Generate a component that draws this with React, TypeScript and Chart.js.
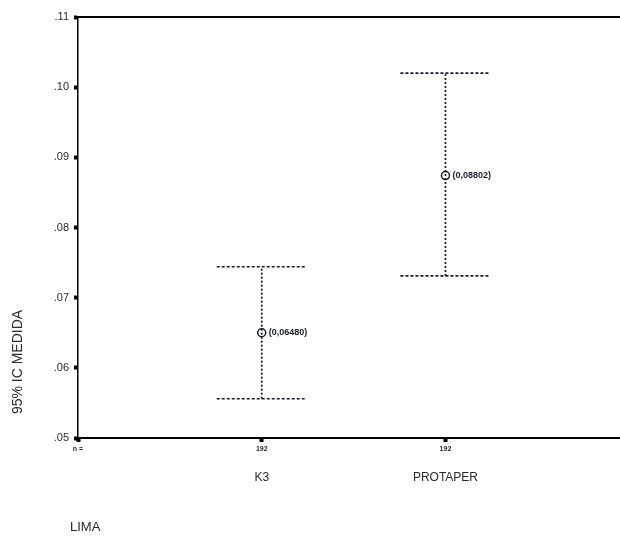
import React, { useEffect, useRef } from "react";
import { Chart, registerables } from "chart.js";

Chart.register(...registerables);

const categories = ["K3", "PROTAPER"];
const nLabels = ["192", "192"];
const means = [0.065, 0.0874];
const lower = [0.0556, 0.0731];
const upper = [0.0744, 0.102];
const meanLabels = ["(0,06480)", "(0,08802)"];
const yTicks = [0.05, 0.06, 0.07, 0.08, 0.09, 0.1, 0.11];
const yTitle = "95% IC MEDIDA";
const xTitle = "LIMA";
const nPrefix = "n =";

const INK = "#1b1b2b";
const TEXT = "#2a2a2a";
const CAP = 0.245;

export default function App() {
  const ref = useRef<HTMLCanvasElement | null>(null);

  useEffect(() => {
    if (!ref.current) return;
    const datasets: any[] = [];
    categories.forEach((_, i) => {
      const x = i + 1;
      datasets.push({
        data: [{ x, y: lower[i] }, { x, y: upper[i] }],
        showLine: true,
        borderColor: INK,
        borderWidth: 1.8,
        borderDash: [2, 2],
        pointRadius: 0,
      });
      datasets.push({
        data: [{ x: x - CAP, y: upper[i] }, { x: x + CAP, y: upper[i] }],
        showLine: true,
        borderColor: INK,
        borderWidth: 1.6,
        borderDash: [3, 2],
        pointRadius: 0,
      });
      datasets.push({
        data: [{ x: x - CAP, y: lower[i] }, { x: x + CAP, y: lower[i] }],
        showLine: true,
        borderColor: INK,
        borderWidth: 1.6,
        borderDash: [3, 2],
        pointRadius: 0,
      });
    });
    datasets.push({
      data: means.map((m, i) => ({ x: i + 1, y: m })),
      showLine: false,
      pointStyle: "circle",
      pointRadius: 4,
      pointBackgroundColor: "#ffffff",
      pointBorderColor: INK,
      pointBorderWidth: 1.5,
    });
    datasets.push({
      data: means.map((m, i) => ({ x: i + 1, y: m })),
      showLine: false,
      pointStyle: "cross",
      pointRadius: 3,
      pointBorderColor: INK,
      pointBorderWidth: 1,
    });

    const overlay = {
      id: "overlay",
      afterDraw(chart: any) {
        const { ctx, chartArea, scales } = chart;
        const xs = scales.x;
        const ys = scales.y;
        ctx.save();
        ctx.strokeStyle = "#000";
        ctx.lineWidth = 2;
        ctx.beginPath();
        ctx.moveTo(chartArea.left, chartArea.top);
        ctx.lineTo(chartArea.right, chartArea.top);
        ctx.stroke();
        ctx.fillStyle = INK;
        ctx.font = 'bold 9px "Liberation Sans Narrow", "Liberation Sans", Arial';
        ctx.textAlign = "left";
        ctx.textBaseline = "middle";
        means.forEach((m, i) => {
          ctx.fillText(meanLabels[i], xs.getPixelForValue(i + 1) + 7, ys.getPixelForValue(m));
        });
        ctx.fillStyle = TEXT;
        ctx.font = '12px "Liberation Sans", Arial';
        ctx.textAlign = "center";
        categories.forEach((c, i) => {
          ctx.fillText(c, xs.getPixelForValue(i + 1), 478);
        });
        ctx.font = '13px "Liberation Sans Narrow", "Liberation Sans", Arial';
        ctx.textAlign = "left";
        ctx.fillText(xTitle, 70, 527);
        ctx.translate(18, 362);
        ctx.rotate(-Math.PI / 2);
        ctx.textAlign = "center";
        ctx.font = '14px "Liberation Sans", Arial';
        ctx.fillText(yTitle, 0, 0);
        ctx.restore();
      },
    };

    const chart = new Chart(ref.current, {
      type: "scatter",
      data: { datasets },
      options: {
        animation: false,
        responsive: false,
        maintainAspectRatio: false,
        layout: { autoPadding: false, padding: { top: 17, right: 0, left: 0, bottom: 0 } },
        plugins: { legend: { display: false }, tooltip: { enabled: false } },
        scales: {
          x: {
            type: "linear",
            min: 0,
            max: 2.95,
            afterBuildTicks: (s: any) => {
              s.ticks = [0, 1, 2].map((v) => ({ value: v }));
            },
            afterFit: (s: any) => {
              s.height = 102;
              s.paddingRight = 0;
              s.paddingLeft = 0;
            },
            ticks: {
              autoSkip: false,
              maxRotation: 0,
              padding: 3,
              color: TEXT,
              font: { family: '"Liberation Sans", Arial', size: 7, weight: "bold" },
              callback: (v: any) => (v === 0 ? nPrefix : nLabels[v - 1]),
            },
            grid: { drawOnChartArea: false, tickLength: 4, tickWidth: 4, tickColor: "#000" },
            border: { display: true, color: "#000", width: 2 },
          },
          y: {
            type: "linear",
            min: 0.05,
            max: 0.11,
            afterBuildTicks: (s: any) => {
              s.ticks = yTicks.map((v) => ({ value: v }));
            },
            afterFit: (s: any) => {
              s.width = 78;
              s.paddingTop = 0;
              s.paddingBottom = 0;
            },
            ticks: {
              padding: 5,
              color: TEXT,
              font: { family: '"Liberation Sans", Arial', size: 11 },
              callback: (v: any) => "." + String(Math.round(v * 100)).padStart(2, "0"),
            },
            grid: { drawOnChartArea: false, tickLength: 4, tickWidth: 4, tickColor: "#000" },
            border: { display: true, color: "#000", width: 1.5 },
          },
        },
      },
      plugins: [overlay],
    } as any);
    return () => chart.destroy();
  }, []);

  return (
    <div style={{ position: "absolute", left: 0, top: 0, width: 620, height: 540, background: "#fff", overflow: "hidden" }}>
      <canvas ref={ref} width={620} height={540} style={{ display: "block", width: 620, height: 540 }} />
    </div>
  );
}
